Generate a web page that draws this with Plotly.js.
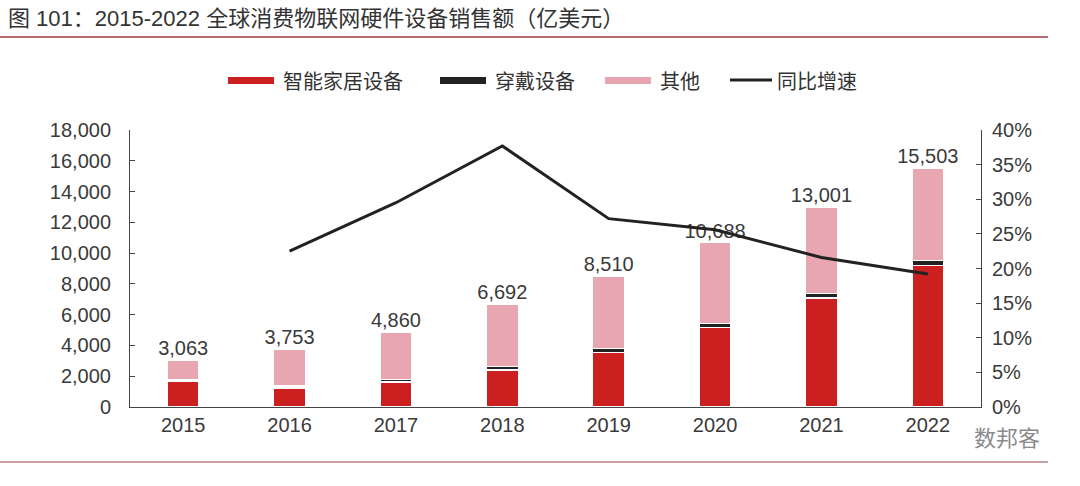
<!DOCTYPE html>
<html>
<head>
<meta charset="utf-8">
<script src="https://cdn.plot.ly/plotly-3.0.1.min.js"></script>
<style>
  html, body { margin: 0; padding: 0; background: #fff; }
  #myDiv { width: 1080px; height: 486px; }
</style>
</head>
<body>
<div id="myDiv"></div>
<script>
var years = ['2015', '2016', '2017', '2018', '2019', '2020', '2021', '2022'];
var smartHome = [1680, 1250, 1640, 2400, 3540, 5160, 7080, 9200];
var wearable = [120, 130, 160, 230, 260, 280, 300, 320];
var others = [1263, 2373, 3060, 4062, 4710, 5248, 5621, 5983];
var totals = [3063, 3753, 4860, 6692, 8510, 10688, 13001, 15503];
var growthYears = ['2016', '2017', '2018', '2019', '2020', '2021', '2022'];
var growth = [22.5, 29.5, 37.7, 27.2, 25.6, 21.6, 19.2];

var font = 'Liberation Sans, Arial, Noto Sans CJK SC, sans-serif';
var cjk = 'Noto Sans CJK SC, sans-serif';

// plot area in pixels
var L = 130, R = 981, T = 130, B = 407;
var W = R - L, H = B - T;
function px(x) { return (x - L) / W; }
function py(y) { return (B - y) / H; }

var sep = {color: '#ffffff', width: 1.5};

var data = [{
  x: years, y: smartHome, type: 'bar', name: '智能家居设备',
  marker: {color: '#cc1f1f', line: sep}
}, {
  x: years, y: wearable, type: 'bar', name: '穿戴设备',
  marker: {color: '#222222', line: sep}
}, {
  x: years, y: others, type: 'bar', name: '其他',
  marker: {color: '#e8a6b0', line: sep}
}, {
  x: years, y: totals, type: 'scatter', mode: 'text',
  text: totals.map(function (v) { return v.toLocaleString('en-US'); }),
  textposition: 'top center',
  textfont: {family: font, size: 20, color: '#3a3a3a'},
  cliponaxis: false, hoverinfo: 'skip'
}, {
  x: growthYears, y: growth, type: 'scatter', mode: 'lines', name: '同比增速',
  yaxis: 'y2', line: {color: '#222', width: 3}
}];

// hand-drawn legend with wide swatches
var legendItems = [
  {x0: 228, text: '智能家居设备', color: '#cc1f1f', kind: 'rect'},
  {x0: 440, text: '穿戴设备', color: '#222222', kind: 'rect'},
  {x0: 605, text: '其他', color: '#e8a6b0', kind: 'rect'},
  {x0: 730, text: '同比增速', color: '#222222', kind: 'line'}
];

var shapes = [
  {type: 'line', xref: 'paper', yref: 'paper', x0: px(0), x1: px(1048),
   y0: py(37), y1: py(37), line: {color: '#b56a6f', width: 2}},
  {type: 'line', xref: 'paper', yref: 'paper', x0: px(0), x1: px(1048),
   y0: py(462), y1: py(462), line: {color: '#c9a0a3', width: 2}}
];
var annotations = [{
  xref: 'paper', yref: 'paper', x: px(6), y: py(18),
  xanchor: 'left', yanchor: 'middle', showarrow: false,
  text: '图 101：2015-2022 全球消费物联网硬件设备销售额（亿美元）',
  font: {family: font, size: 22, color: '#333'}
}, {
  xref: 'paper', yref: 'paper', x: px(1042), y: py(436),
  xanchor: 'right', yanchor: 'middle', showarrow: false,
  text: '数邦客', font: {family: cjk, size: 22, color: '#8a8a8a'}
}];

legendItems.forEach(function (it) {
  var yc = py(80);
  if (it.kind === 'rect') {
    shapes.push({type: 'rect', xref: 'paper', yref: 'paper', x0: px(it.x0), x1: px(it.x0 + 46),
      y0: py(84), y1: py(77), fillcolor: it.color, line: {width: 0}});
  } else {
    shapes.push({type: 'line', xref: 'paper', yref: 'paper', x0: px(it.x0), x1: px(it.x0 + 42),
      y0: yc, y1: yc, line: {color: it.color, width: 3}});
  }
  annotations.push({xref: 'paper', yref: 'paper', x: px(it.x0 + (it.kind === 'rect' ? 53 : 45)), y: yc,
    xanchor: 'left', yanchor: 'middle', showarrow: false, text: it.text,
    font: {family: cjk, size: 20, color: '#333'}});
});

var layout = {
  width: 1080, height: 486,
  margin: {l: L, r: 1080 - R, t: T, b: 486 - B},
  paper_bgcolor: '#fff', plot_bgcolor: '#fff',
  barmode: 'stack', bargap: 0.7,
  showlegend: false,
  font: {family: font, size: 20, color: '#3a3a3a'},
  xaxis: {
    showline: true, linecolor: '#444', linewidth: 1, ticks: '',
    tickfont: {size: 20, color: '#3a3a3a'}, fixedrange: true
  },
  yaxis: {
    range: [0, 18000], dtick: 2000, tickformat: ',d',
    showgrid: false, zeroline: false, showline: true, linecolor: '#444',
    ticks: 'inside', ticklen: 5, tickcolor: '#444',
    tickfont: {size: 20, color: '#3a3a3a'}, ticklabelstandoff: 14
  },
  yaxis2: {
    overlaying: 'y', side: 'right', range: [0, 40], dtick: 5, ticksuffix: '%',
    showgrid: false, zeroline: false, showline: true, linecolor: '#444',
    ticks: 'inside', ticklen: 5, tickcolor: '#444',
    tickfont: {size: 20, color: '#3a3a3a'}, ticklabelstandoff: 6
  },
  shapes: shapes,
  annotations: annotations
};

Plotly.newPlot('myDiv', data, layout, {displayModeBar: false});
</script>
</body>
</html>
